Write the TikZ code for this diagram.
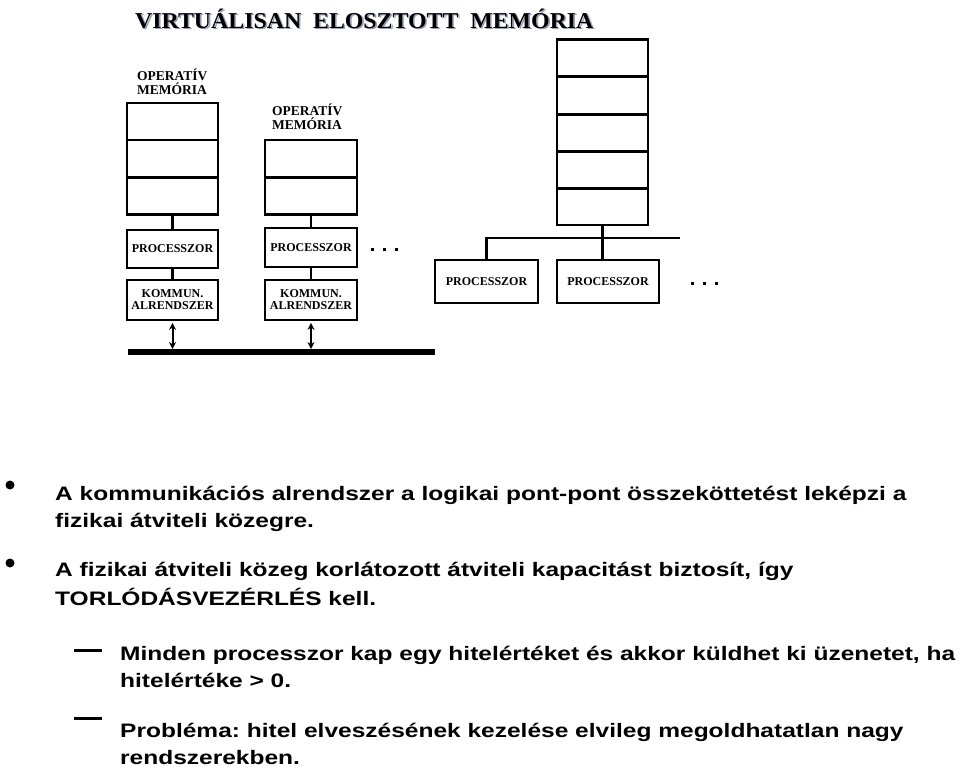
\documentclass[tikz,border=0pt]{standalone}
\usepackage{fontspec}
\setmainfont{Liberation Serif}
\newfontfamily\arialfont[FakeStretch=1.257]{Liberation Sans}
\newfontfamily\titlefont[FakeStretch=1.05]{Liberation Serif}
\usetikzlibrary{arrows.meta}
\definecolor{shadowc}{RGB}{150,160,185}
\frenchspacing
\tikzset{
  cell/.style={draw, line width=2.6pt, inner sep=0pt, minimum width=91pt, minimum height=37pt},
  smalltxt/.style={font=\fontsize{12}{12}\selectfont\bfseries, align=center, inner sep=0pt},
  labtxt/.style={font=\fontsize{13.5}{14}\selectfont\bfseries, anchor=base west, inner sep=0pt},
  conn/.style={line width=2.4pt},
  dbl/.style={line width=2pt, {Stealth[length=7pt,width=7pt]}-{Stealth[length=7pt,width=7pt]}},
  bodytxt/.style={font=\arialfont\fontsize{19.5}{22}\selectfont\bfseries, anchor=base west, inner sep=0pt},
  dotm/.style={fill=black, minimum size=3pt, inner sep=0pt},
}
\newcommand{\titletext}{VIRTUÁLISAN\ \ ELOSZTOTT\ \ MEMÓRIA}
\begin{document}
\begin{tikzpicture}[x=1pt,y=-1pt]
\useasboundingbox (0,0) rectangle (960,772);
% title with shadow
\node[anchor=base west, inner sep=0pt, font=\titlefont\fontsize{22.7}{24}\selectfont\bfseries] (title) at (135,28)
  {\makebox[0pt][l]{\hspace{1.6pt}\raisebox{-1.6pt}{\color{shadowc}\titletext}}\titletext};

% node 1
\node[labtxt] (lab1a) at (137,80.5) {OPERATÍV};
\node[labtxt] (lab1b) at (137,94.5) {MEMÓRIA};
\node[cell, minimum width=91pt] (m1a) at (172.5,121.5) {};
\node[cell, minimum width=91pt] (m1b) at (172.5,158.5) {};
\node[cell, minimum width=91pt] (m1c) at (172.5,196) {};
\node[cell, minimum height=38pt, smalltxt] (p1) at (172.5,249) {PROCESSZOR};
\node[cell, minimum height=40pt, smalltxt] (k1) at (172.5,300) {KOMMUN.\\ALRENDSZER};

% node 2
\node[labtxt] (lab2a) at (272,115) {OPERATÍV};
\node[labtxt] (lab2b) at (272,129) {MEMÓRIA};
\node[cell, minimum width=92pt] (m2a) at (311,158.5) {};
\node[cell, minimum width=92pt] (m2b) at (311,196) {};
\node[cell, minimum width=92pt, minimum height=39pt, smalltxt] (p2) at (311,247.5) {PROCESSZOR};
\node[cell, minimum width=92pt, minimum height=40pt, smalltxt] (k2) at (311,300) {KOMMUN.\\ALRENDSZER};

% bus
\coordinate (busL) at (128,352);
\coordinate (busR) at (435,352);
\draw[line width=6pt] (busL) -- (busR);
\draw[conn] (m1c.south) -- (p1.north);
\draw[conn] (p1.south) -- (k1.north);
\draw[conn] (m2b.south) -- (p2.north);
\draw[conn] (p2.south) -- (k2.north);
\draw[dbl, shorten <=1.5pt, shorten >=3pt] (k1.south) -- (k1.south |- busL);
\draw[dbl, shorten <=1.5pt, shorten >=3pt] (k2.south) -- (k2.south |- busL);
\node[dotm] (d1) at (372,249) {};
\node[dotm] (d2) at (384,249) {};
\node[dotm] (d3) at (396,249) {};

% right shared memory
\node[cell] (mr1) at (602.5,58) {};
\node[cell] (mr2) at (602.5,95.5) {};
\node[cell] (mr3) at (602.5,133) {};
\node[cell] (mr4) at (602.5,170) {};
\node[cell] (mr5) at (602.5,206.5) {};
\node[cell, minimum width=103pt, minimum height=43pt, smalltxt] (pr1) at (486.5,281.5) {PROCESSZOR};
\node[cell, minimum width=102pt, minimum height=43pt, smalltxt] (pr2) at (608,281.5) {PROCESSZOR};
\coordinate (hR) at (680,238);
\draw[conn] (mr5.south) -- (mr5.south |- pr2.north);
\draw[conn] (pr1.north) -- (pr1.north |- hR) -- (hR);
\node[dotm] (d4) at (692,283) {};
\node[dotm] (d5) at (704,283) {};
\node[dotm] (d6) at (716,283) {};

% bullets
\node[circle, fill=black, minimum size=9pt, inner sep=0pt] (b1) at (10,485) {};
\node[circle, fill=black, minimum size=9pt, inner sep=0pt] (b2) at (10,563) {};
\node[bodytxt] (t1) at (55,500) {A kommunikációs alrendszer a logikai pont-pont összeköttetést leképzi a};
\node[bodytxt] (t2) at (55,527) {fizikai átviteli közegre.};
\node[bodytxt] (t3) at (55,576) {A fizikai átviteli közeg korlátozott átviteli kapacitást biztosít, így};
\node[bodytxt] (t4) at (55,605) {TORLÓDÁSVEZÉRLÉS kell.};
\node[fill=black, minimum width=28pt, minimum height=3pt, inner sep=0pt] (s1) at (88,650) {};
\node[fill=black, minimum width=28pt, minimum height=3pt, inner sep=0pt] (s2) at (88,718) {};
\node[bodytxt] (t5) at (120,660.5) {Minden processzor kap egy hitelértéket és akkor küldhet ki üzenetet, ha};
\node[bodytxt] (t6) at (120,687) {hitelértéke > 0.};
\node[bodytxt] (t7) at (120,737) {Probléma: hitel elveszésének kezelése elvileg megoldhatatlan nagy};
\node[bodytxt] (t8) at (120,764) {rendszerekben.};
\end{tikzpicture}
\end{document}
